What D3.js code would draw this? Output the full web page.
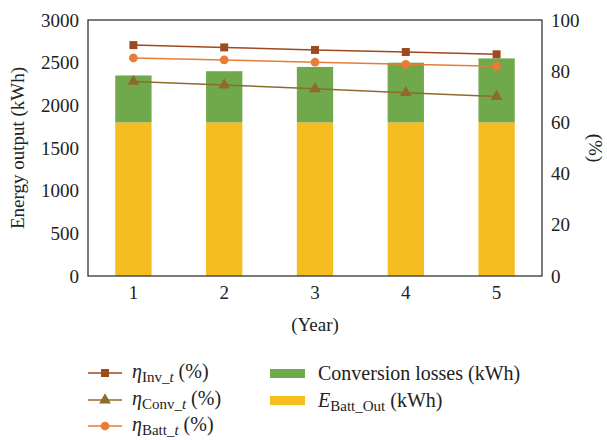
<!DOCTYPE html>
<html><head><meta charset="utf-8">
<script src="https://cdn.jsdelivr.net/npm/d3@7/dist/d3.min.js"></script>
<style>body{margin:0;background:#fff}svg{font-family:"Liberation Serif","DejaVu Serif",serif}</style>
</head><body><svg id="c" width="607" height="440"></svg>
<script>
const years = ["1","2","3","4","5"];
const battOut = [1800,1800,1800,1800,1800];
const convLoss = [550,600,650,700,750];
const etaInv = [90.2,89.3,88.3,87.5,86.6];
const etaConv = [76.0,74.6,73.1,71.6,70.1];
const etaBatt = [85.2,84.4,83.5,82.7,81.9];
const leftTicks = [0,500,1000,1500,2000,2500,3000];
const rightTicks = [0,20,40,60,80,100];

const svg = d3.select("#c");
const m = {l:88, r:542, t:20, b:276};
const x = d3.scaleBand().domain(years).range([m.l,m.r]).paddingInner(0.6).paddingOuter(0.3);
const yL = d3.scaleLinear().domain([0,3000]).range([m.b,m.t]);
const yR = d3.scaleLinear().domain([0,100]).range([m.b,m.t]);
const cx = d => x(d)+x.bandwidth()/2;

const green="#70a84c", yellow="#f5bd1f", cInv="#9c4a1f", cConv="#8e6b2a", cBatt="#e97d36";

svg.append("g").selectAll("rect").data(years).join("rect")
  .attr("x",d=>x(d)).attr("width",x.bandwidth())
  .attr("y",(d,i)=>yL(battOut[i])).attr("height",(d,i)=>yL(0)-yL(battOut[i])).attr("fill",yellow);
svg.append("g").selectAll("rect").data(years).join("rect")
  .attr("x",d=>x(d)).attr("width",x.bandwidth())
  .attr("y",(d,i)=>yL(battOut[i]+convLoss[i])).attr("height",(d,i)=>yL(0)-yL(convLoss[i])).attr("fill",green);

svg.append("rect").attr("x",m.l).attr("y",m.t).attr("width",m.r-m.l).attr("height",m.b-m.t)
  .attr("fill","none").attr("stroke","#333").attr("stroke-width",1.3);

const fs=19;
const gl = svg.append("g").attr("transform",`translate(${m.l},0)`)
  .call(d3.axisLeft(yL).tickValues(leftTicks).tickSize(0).tickPadding(9).tickFormat(d3.format("d")));
const gr = svg.append("g").attr("transform",`translate(${m.r},0)`)
  .call(d3.axisRight(yR).tickValues(rightTicks).tickSize(0).tickPadding(9));
const gb = svg.append("g").attr("transform",`translate(0,${m.b})`)
  .call(d3.axisBottom(x).tickSize(0).tickPadding(10));
[gl,gr,gb].forEach(g=>{g.select(".domain").remove();g.selectAll("text").attr("font-size",fs).attr("font-family","Liberation Serif").attr("fill","#222");});

svg.append("text").attr("transform",`translate(24,${(m.t+m.b)/2}) rotate(-90)`).attr("text-anchor","middle")
  .attr("font-size",fs).attr("fill","#222").text("Energy output (kWh)");
svg.append("text").attr("transform",`translate(589,${(m.t+m.b)/2}) rotate(90)`).attr("text-anchor","middle")
  .attr("font-size",fs).attr("fill","#222").text("(%)");
svg.append("text").attr("x",(m.l+m.r)/2).attr("y",331).attr("text-anchor","middle")
  .attr("font-size",fs).attr("fill","#222").text("(Year)");

const series=[
  {v:etaInv,c:cInv,sym:d3.symbolSquare,size:64,sub:"Inv_"},
  {v:etaConv,c:cConv,sym:d3.symbolTriangle,size:60,sub:"Conv_"},
  {v:etaBatt,c:cBatt,sym:d3.symbolCircle,size:60,sub:"Batt_"}
];
const line=d3.line().x((d,i)=>cx(years[i])).y(d=>yR(d));
series.forEach(s=>{
  svg.append("path").attr("d",line(s.v)).attr("fill","none").attr("stroke",s.c).attr("stroke-width",1.5);
  svg.append("g").selectAll("path").data(s.v).join("path")
    .attr("transform",(d,i)=>`translate(${cx(years[i])},${yR(d)})`)
    .attr("d",d3.symbol(s.sym,s.size)).attr("fill",s.c);
});

const lfs=20, sfs=15;
const lg=svg.append("g");
const rows=[373,400,426];
series.forEach((s,i)=>{
  const y=rows[i];
  lg.append("line").attr("x1",88).attr("x2",122).attr("y1",y).attr("y2",y).attr("stroke",s.c).attr("stroke-width",1.5);
  lg.append("path").attr("transform",`translate(105,${y})`).attr("d",d3.symbol(s.sym,s.size)).attr("fill",s.c);
  const t=lg.append("text").attr("x",132).attr("y",y+5).attr("font-size",lfs).attr("fill","#222");
  t.append("tspan").attr("font-style","italic").text("η");
  t.append("tspan").attr("font-size",sfs).attr("dy",4).text(s.sub);
  t.append("tspan").attr("font-size",sfs).attr("font-style","italic").text("t");
  t.append("tspan").attr("dy",-4).text(" (%)");
});
lg.append("rect").attr("x",270).attr("y",369).attr("width",35).attr("height",9).attr("fill",green);
lg.append("text").attr("x",318).attr("y",380).attr("font-size",lfs).attr("fill","#222").text("Conversion losses (kWh)");
lg.append("rect").attr("x",270).attr("y",396).attr("width",35).attr("height",9).attr("fill",yellow);
const t2=lg.append("text").attr("x",318).attr("y",407).attr("font-size",lfs).attr("fill","#222");
t2.append("tspan").attr("font-style","italic").text("E");
t2.append("tspan").attr("font-size",sfs).attr("dy",4).text("Batt_Out");
t2.append("tspan").attr("dy",-4).text(" (kWh)");
</script></body></html>
